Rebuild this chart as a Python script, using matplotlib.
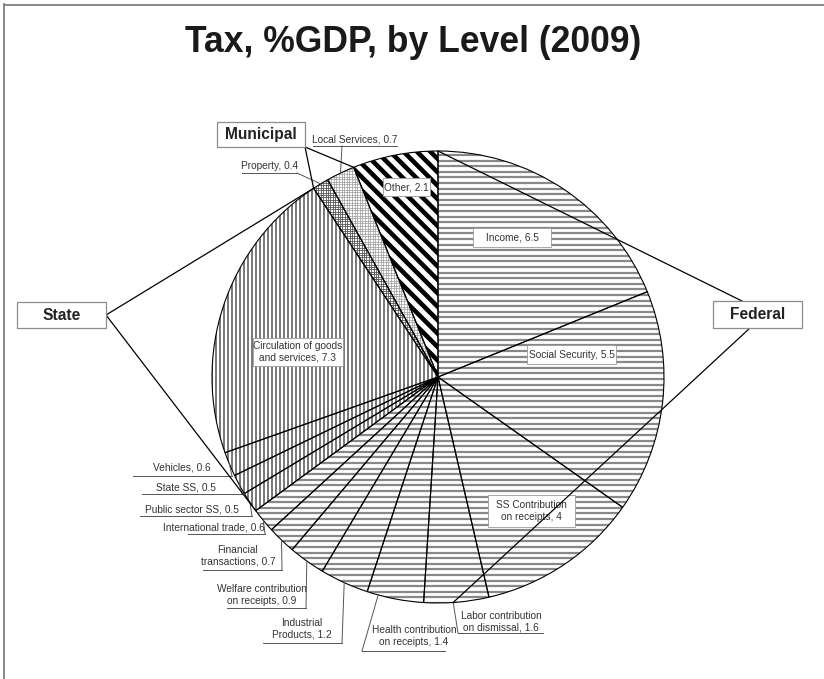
#! /usr/bin/env python3

import matplotlib
matplotlib.use("Agg")
import matplotlib.pyplot as plt
import numpy as np
from matplotlib.collections import LineCollection
from matplotlib.patches import Rectangle

plt.rcParams['font.family'] = ['Liberation Sans', 'DejaVu Sans']

# Tax as % of GDP, 2009, clockwise from 12 o'clock
federal_names = ["Income", "Social Security", "SS Contribution\non receipts",
                 "Labor contribution\non dismissal", "Health contribution\non receipts",
                 "Industrial\nProducts", "Welfare contribution\non receipts",
                 "Financial\ntransactions", "International trade"]
federal_vals = [6.5, 5.5, 4, 1.6, 1.4, 1.2, 0.9, 0.7, 0.6]
state_names = ["Public sector SS", "State SS", "Vehicles", "Circulation of goods\nand services"]
state_vals = [0.5, 0.5, 0.6, 7.3]
municipal_names = ["Property", "Local Services"]
municipal_vals = [0.4, 0.7]
other_names = ["Other"]
other_vals = [2.1]

names = federal_names + state_names + municipal_names + other_names
vals = federal_vals + state_vals + municipal_vals + other_vals
groups = (["federal"] * len(federal_vals) + ["state"] * len(state_vals)
          + ["property", "local"] + ["other"])

W, H = 824, 679
cx, cy, R = 438, H - 377, 226

fig = plt.figure(figsize=(W / 100, H / 100), dpi=100)
ax = fig.add_axes([0, 0, 1, 1])

wedges, _ = ax.pie(vals, radius=R, center=(cx, cy), startangle=90, counterclock=False,
                   colors=['none'] * len(vals),
                   wedgeprops=dict(edgecolor='black', linewidth=0.8, zorder=3))
ax.set_xlim(0, W)
ax.set_ylim(0, H)
ax.set_aspect('equal')
ax.axis('off')

total = sum(vals)
cum = np.concatenate([[0], np.cumsum(vals)])


def arc_pt(frac, r=R):
    a = np.deg2rad(90 - 360 * frac)
    return cx + r * np.cos(a), cy + r * np.sin(a)


def hatch(wedge, angle, spacing, lw, color):
    d = np.deg2rad(angle)
    u = np.array([np.cos(d), np.sin(d)])
    n = np.array([-np.sin(d), np.cos(d)])
    segs = []
    for o in np.arange(-R, R + spacing, spacing):
        p = np.array([cx, cy]) + o * n
        segs.append([p - R * u, p + R * u])
    lc = LineCollection(segs, colors=color, linewidths=lw, capstyle='butt', zorder=2)
    ax.add_collection(lc)
    lc.set_clip_path(wedge)


for w, g in zip(wedges, groups):
    if g == "federal":
        hatch(w, 0, 5.6, 1.6, '#888888')
    elif g == "state":
        hatch(w, 90, 4.0, 1.4, '#777777')
    elif g == "property":
        hatch(w, 0, 2.4, 0.6, '#555555')
        hatch(w, 90, 2.4, 0.6, '#555555')
    elif g == "local":
        hatch(w, 0, 2.6, 0.5, '#9a9a9a')
        hatch(w, 90, 2.6, 0.5, '#9a9a9a')
    else:
        hatch(w, -45, 9.5, 3.3, 'black')


def lbl(i):
    return f"{names[i]}, {vals[i]:g}"


txt_kw = dict(fontsize=7.3, color='#333333', ha='center', va='center',
              linespacing=1.15, zorder=5)

# labels inside the pie: box (x0, y0, x1, y1) in pixels, y from top
inside = {
    0: (473, 228, 551, 247),
    1: (527, 345, 616, 364),
    2: (488, 495, 575, 527),
    12: (253, 338, 343, 366),
    15: (383, 178, 430, 196),
}
for i, (x0, y0, x1, y1) in inside.items():
    ax.add_patch(Rectangle((x0, H - y1), x1 - x0, y1 - y0, fc='white', ec='#9a9a9a',
                           lw=0.6, zorder=4))
    ax.text((x0 + x1) / 2, H - (y0 + y1) / 2, lbl(i), **txt_kw)

# labels outside: text centre, underline (x0, x1, y), leader end, place on wedge arc
outside = {
    11: ((182, 467), (133, 232, 476), (232, 476), 0.5),
    10: ((186, 487), (142, 242, 494), (242, 494), 0.5),
    9: ((192, 509), (140, 252, 516), (252, 516), 0.5),
    8: ((214, 527), (188, 265, 534), (265, 534), 0.5),
    7: ((238, 556), (203, 282, 570), (282, 570), 0.5),
    6: ((262, 595), (227, 306, 608), (306, 608), 0.5),
    5: ((302, 629), (263, 342, 643), (342, 643), 0.5),
    4: ((414, 636), (362, 445, 651), (362, 651), 0.8),
    3: ((501, 622), (458, 543, 633), (458, 633), 0.55),
    13: ((270, 166), (242, 297, 173), (297, 173), 0.5),
    14: ((355, 140), (313, 397, 146), (342, 146), 0.5),
}
for i, ((tx, ty), (ux0, ux1, uy), (lx, ly), k) in outside.items():
    ax.text(tx, H - ty, lbl(i), **txt_kw)
    ax.plot([ux0, ux1], [H - uy, H - uy], color='#555555', lw=0.7, zorder=4)
    px, py = arc_pt((cum[i] + k * vals[i]) / total)
    ax.plot([px, lx], [py, H - ly], color='#555555', lw=0.7, zorder=4)

# group boxes and callout lines
nf, ns = len(federal_vals), len(state_vals)
grp_boxes = {
    "State": ((17, 302, 106, 328), (106, 315), (106, 315),
              cum[nf + ns] / total, cum[nf] / total),
    "Federal": ((713, 301, 802, 328), (742, 301), (750, 328),
                0.0, (cum[3] + 0.55 * vals[3]) / total),
    "Municipal": ((217, 122, 305, 147), (305, 147), (305, 147),
                  cum[nf + ns] / total, cum[nf + ns + 2] / total),
}
for name, ((x0, y0, x1, y1), s1, s2, f1, f2) in grp_boxes.items():
    ax.add_patch(Rectangle((x0, H - y1), x1 - x0, y1 - y0, fc='white', ec='#8c8c8c',
                           lw=0.9, zorder=7))
    ax.text((x0 + x1) / 2, H - (y0 + y1) / 2, name, fontsize=11.2, fontweight='bold',
            color='#222222', ha='center', va='center', zorder=8)
    for (sx, sy), f in ((s1, f1), (s2, f2)):
        px, py = arc_pt(f)
        ax.plot([sx, px], [H - sy, py], color='black', lw=0.9, zorder=6)

ax.text(413, H - 42, "Tax, %GDP, by Level (2009)", fontsize=25.6, fontweight='bold',
        color='#1a1a1a', ha='center', va='center')

# outer frame
ax.plot([4.5, 4.5], [0, H - 4], color='#7f7f7f', lw=1.3, clip_on=False)
ax.plot([4, W], [H - 4.5, H - 4.5], color='#7f7f7f', lw=1.3, clip_on=False)

fig.savefig("out.png", dpi=100)
